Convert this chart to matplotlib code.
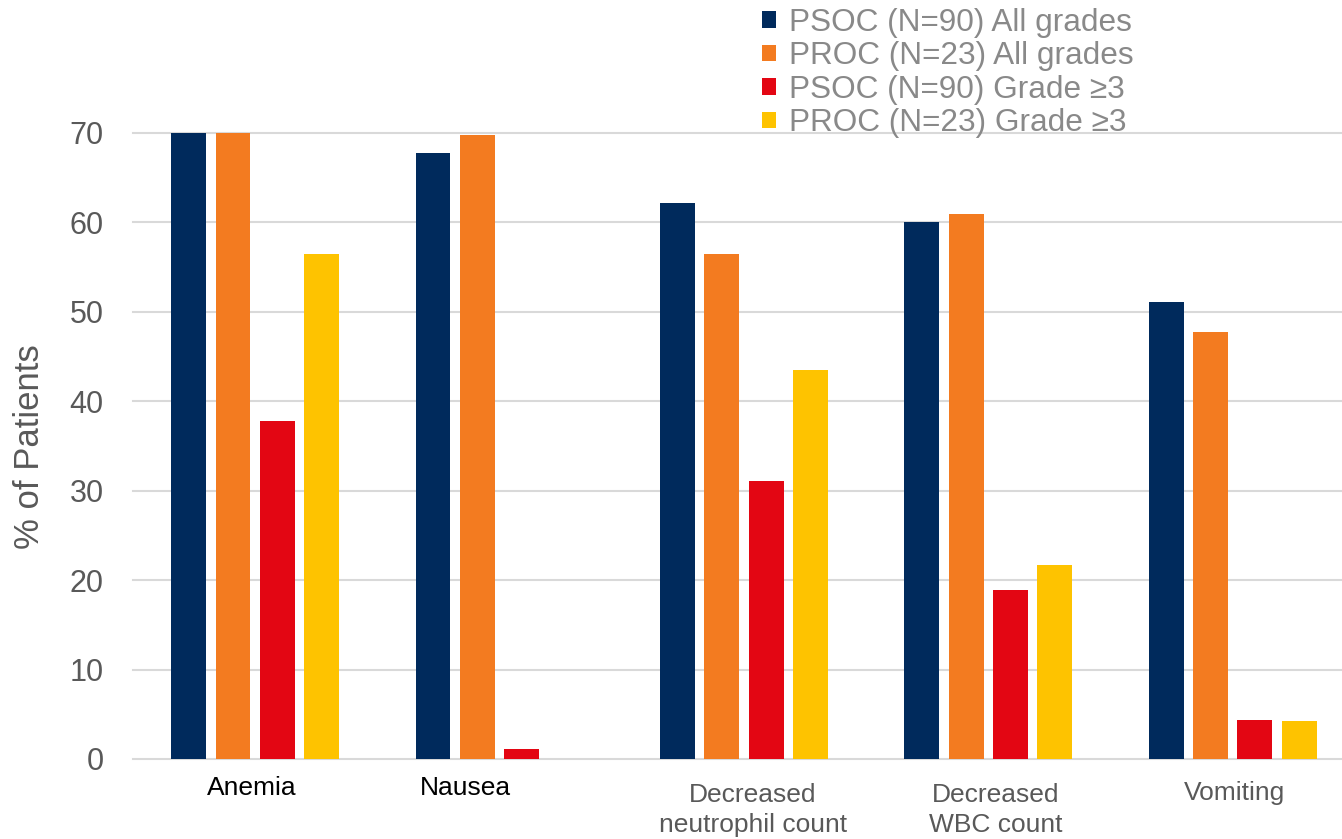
import matplotlib
matplotlib.use("Agg")
import matplotlib.pyplot as plt
import matplotlib.transforms as mtransforms
import numpy as np

plt.rcParams['font.family'] = ['Liberation Sans', 'DejaVu Sans']

categories = ["Anemia", "Nausea", "Decreased\nneutrophil count", "Decreased\nWBC count", "Vomiting"]
series_names = ["PSOC (N=90) All grades", "PROC (N=23) All grades",
                "PSOC (N=90) Grade \u22653", "PROC (N=23) Grade \u22653"]
psoc_all = [70.0, 67.8, 62.2, 60.0, 51.1]
proc_all = [70.0, 69.8, 56.5, 60.9, 47.8]
psoc_g3 = [37.8, 1.1, 31.1, 18.9, 4.4]
proc_g3 = [56.5, 0.0, 43.5, 21.7, 4.3]
y_ticks = [0, 10, 20, 30, 40, 50, 60, 70]

series = [psoc_all, proc_all, psoc_g3, proc_g3]
colors = ["#002A5C", "#F37B20", "#E30613", "#FEC300"]

W, H = 1342, 839
fig = plt.figure(figsize=(W / 100, H / 100), dpi=100)
ax = fig.add_axes([133 / W, 80 / H, 1 - 133 / W, 626 / H])

x = np.arange(len(categories))
step = 0.1816
width = 0.143
for i, (vals, col, name) in enumerate(zip(series, colors, series_names)):
    ax.bar(x + (i - 1.5) * step, vals, width=width, color=col, label=name,
           zorder=3, linewidth=0)

ax.set_xlim(-0.5, 4.447)
ax.set_ylim(0, 70)
ax.set_yticks(y_ticks)
ax.tick_params(axis='y', length=0, pad=21, labelsize=22, labelcolor='#595959')
ax.set_xticks([])
for s in ax.spines.values():
    s.set_visible(False)
ax.yaxis.grid(True, color='#D9D9D9', linewidth=1.5, zorder=0)
for gl in ax.get_ygridlines():
    gl.set_clip_on(False)

# category labels beneath the groups
label_x = [-0.016, 0.859, 2.037, 3.031, 4.008]
label_y = [-0.0463, -0.0463, -0.0815, -0.0815, -0.0543]
label_colors = ["#000000", "#000000", "#595959", "#595959", "#595959"]
trans = mtransforms.blended_transform_factory(ax.transData, ax.transAxes)
for cat, lx, ly, lc in zip(categories, label_x, label_y, label_colors):
    ax.text(lx, ly, cat, transform=trans, ha='center', va='center',
            multialignment='center', fontsize=19, color=lc, linespacing=1.32)

fig.text(30 / W, 1 - 447 / H, "% of Patients", rotation=90, ha='center',
         va='center', fontsize=25, color='#595959')

leg = fig.legend(loc='upper left', bbox_to_anchor=(762 / W, 1 - 8 / H),
                 bbox_transform=fig.transFigure, frameon=False, fontsize=22.7,
                 handlelength=0.43, handleheight=0.43, handletextpad=0.42,
                 labelspacing=0.11, borderpad=0, borderaxespad=0)
for t in leg.get_texts():
    t.set_color('#898989')

fig.savefig("out.png", dpi=100)
